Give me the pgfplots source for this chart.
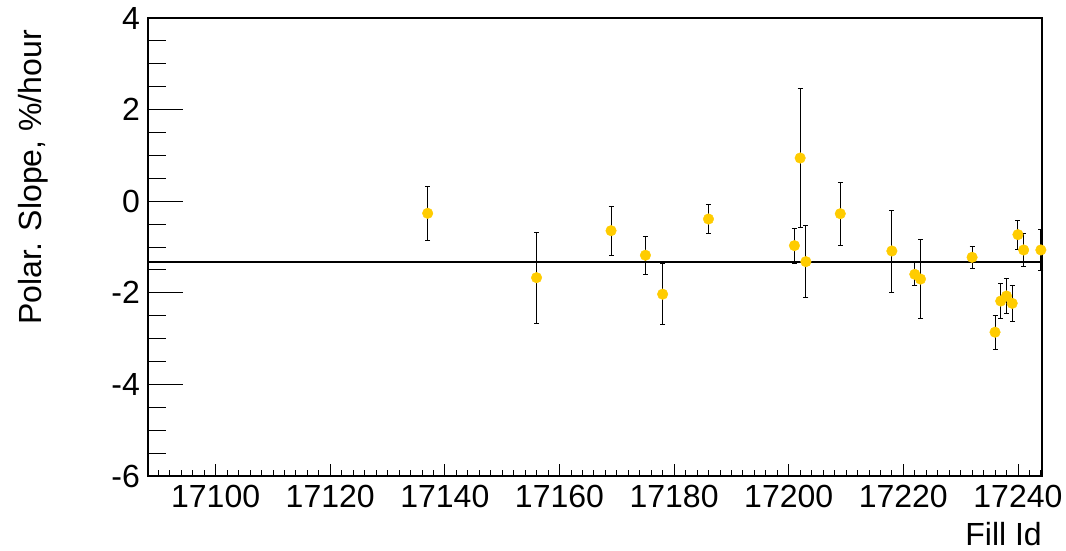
\documentclass[border=0pt]{standalone}
\usepackage{fontspec}
\setmainfont{Liberation Sans}
\usepackage{pgfplots}
\usepackage{pgfplotstable}
\pgfplotsset{compat=1.18}
\definecolor{mk}{RGB}{255,204,0}
\pgfplotstableread{
x y e
17137 -0.264 0.59
17156 -1.67 0.99
17169 -0.644 0.535
17175 -1.18 0.42
17178 -2.03 0.66
17186 -0.389 0.32
17201 -0.97 0.38
17202 0.943 1.51
17203 -1.32 0.79
17209 -0.273 0.69
17218 -1.087 0.895
17222 -1.596 0.25
17223 -1.70 0.87
17232 -1.225 0.235
17236 -2.86 0.37
17237 -2.18 0.38
17238 -2.07 0.38
17239 -2.23 0.39
17240 -0.73 0.32
17241 -1.065 0.37
17244 -1.065 0.44
}\datatable
\begin{document}
\begin{tikzpicture}[x=1pt,y=1pt]
\useasboundingbox (0,0) rectangle (1066,551);
\pgfplotsset{common/.style={scale only axis, width=894pt, height=458pt,
  at={(148pt,75pt)}, anchor=south west,
  xmin=17088.2, xmax=17244.2, ymin=-6, ymax=4,
  scaled x ticks=false, scaled y ticks=false,
  tick align=inside, tick pos=left,
  every tick/.style={black, line width=0.8pt},
  ticklabel style={font=\fontsize{32}{38}\selectfont, inner sep=0pt},
  axis line style={line width=1.6pt}}}
\begin{axis}[common, xtick=\empty,
  ytick={-6,-4,-2,0,2,4}, yticklabels={-6,-4,-2,0,2,4},
  minor ytick={-6,-5.5,...,4},
  major tick length=35pt, minor tick length=18pt,
  yticklabel style={anchor=east, xshift=-8pt}]
\end{axis}
\begin{axis}[common, ytick=\empty,
  xtick={17100,17120,...,17240},
  xticklabels={17100,17120,17140,17160,17180,17200,17220,17240},
  minor xtick={17090,17092,...,17244},
  major tick length=12pt, minor tick length=6pt,
  xticklabel style={anchor=north, yshift=-9pt}, clip=false]
\addplot[black, line width=2pt] coordinates {(17088.2,-1.328) (17244.2,-1.328)};
\addplot[only marks, mark=*, mark size=5.3pt, mark options={fill=mk, draw=mk},
  error bars/.cd, y dir=both, y explicit,
  error bar style={black, line width=0.9pt},
  error mark options={rotate=90, mark size=2.5pt, black, line width=0.9pt}]
  table[x=x, y=y, y error=e] {\datatable};
\end{axis}
\node[rotate=90, anchor=base east, inner sep=0pt, font=\fontsize{32}{38}\selectfont] at (41,521) {Polar. Slope, \%/hour};
\node[anchor=base east, inner sep=0pt, font=\fontsize{32}{38}\selectfont] at (1042,5) {Fill Id};
\end{tikzpicture}
\end{document}
